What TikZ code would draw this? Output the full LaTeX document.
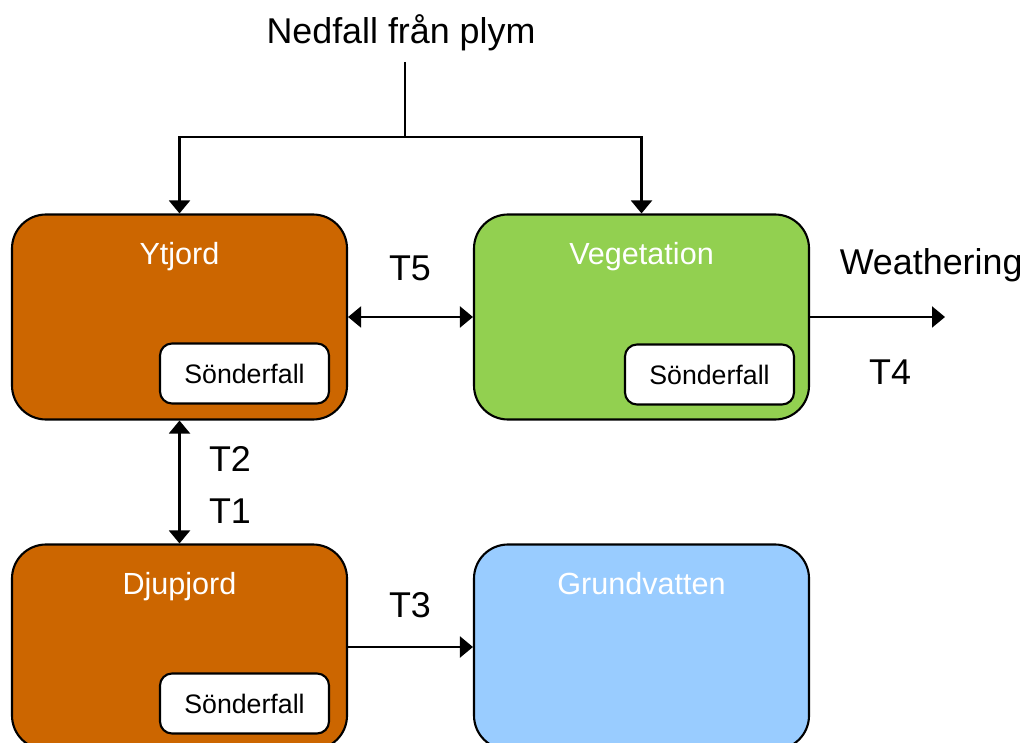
\documentclass[tikz,border=0pt]{standalone}
\usepackage{fontspec}
\setmainfont{Liberation Sans}
\usetikzlibrary{arrows.meta,positioning}
\definecolor{jord}{RGB}{204,102,0}
\definecolor{vaxt}{RGB}{146,208,80}
\definecolor{vatten}{RGB}{153,204,255}
\begin{document}
\begin{tikzpicture}[>={Triangle[length=1.3mm,width=2.1mm]},line width=0.6pt,
    font=\fontsize{10.2}{12}\selectfont,
    pool/.style={draw,rounded corners=3.4mm,minimum width=3.35cm,minimum height=2.05cm},
    pooltitle/.style={anchor=base,text=white,font=\fontsize{8.7}{10}\selectfont},
    decay/.style={draw,fill=white,rounded corners=1.2mm,minimum width=1.69cm,minimum height=0.6cm,
      anchor=south east,font=\fontsize{7.6}{9}\selectfont}]
  \useasboundingbox (0,0) rectangle (10.2,7.42);

  % fack
  \node[pool,fill=jord] (ytjord) at (1.795,4.25) {};
  \node[pool,fill=vaxt] (veg) at (6.415,4.25) {};
  \node[pool,fill=jord] (djup) at (1.795,0.95) {};
  \node[pool,fill=vatten] (grund) at (6.415,0.95) {};

  \node[pooltitle] (ytjordT) at ([yshift=-5.1mm]ytjord.north) {Ytjord};
  \node[pooltitle] (vegT) at ([yshift=-5.1mm]veg.north) {Vegetation};
  \node[pooltitle] (djupT) at ([yshift=-5.1mm]djup.north) {Djupjord};
  \node[pooltitle] (grundT) at ([yshift=-5.1mm]grund.north) {Grundvatten};

  % sönderfall
  \node[decay] (ytjordD) at ([xshift=-1.8mm,yshift=1.6mm]ytjord.south east) {Sönderfall};
  \node[decay] (vegD) at ([xshift=-1.5mm,yshift=1.5mm]veg.south east) {Sönderfall};
  \node[decay] (djupD) at ([xshift=-1.8mm,yshift=1.6mm]djup.south east) {Sönderfall};

  % nedfall
  \node (nedfall) at (4.01,7.09) {Nedfall från plym};
  \coordinate (drop) at (4.05,6.80);
  \coordinate (split) at (4.05,6.05);
  \draw (drop) -- (split);
  \draw[->] (split) -| (ytjord.north);
  \draw[->] (split) -| (veg.north);

  % transfer
  \coordinate (ut) at (9.45,4.25);
  \draw[<->] (ytjord.east) -- (veg.west);
  \draw[->] (veg.east) -- (ut);
  \draw[<->] (ytjord.south) -- (djup.north);
  \draw[->] (djup.east) -- (grund.west);

  \node (t5) at (4.10,4.74) {T5};
  \node[anchor=west] (weather) at (8.27,4.77) {Weathering};
  \node (t4) at (8.90,3.70) {T4};
  \node (t2) at (2.30,2.83) {T2};
  \node (t1) at (2.30,2.31) {T1};
  \node (t3) at (4.10,1.37) {T3};
\end{tikzpicture}
\end{document}
